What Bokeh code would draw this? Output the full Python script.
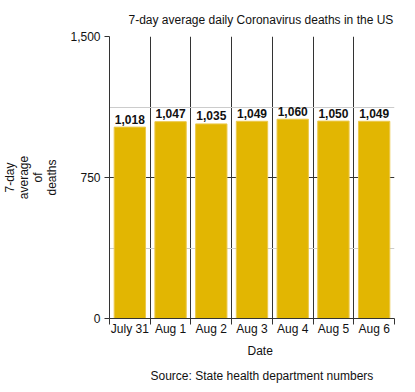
from bokeh.plotting import figure
from bokeh.models import Range1d, FixedTicker, Title, ColumnDataSource, NumeralTickFormatter
from bokeh.embed import file_html
from bokeh.resources import INLINE
from bokeh.core.properties import value

# ---- data ----
dates = ["July 31", "Aug 1", "Aug 2", "Aug 3", "Aug 4", "Aug 5", "Aug 6"]
deaths = [1018, 1047, 1035, 1049, 1060, 1050, 1049]
y_ticks = [0, 750, 1500]
y_minor = [375, 1125]
title_text = "7-day average daily Coronavirus deaths in the US"
x_label = "Date"
y_label = "7-day\naverage\nof\ndeaths"
source_text = "Source: State health department numbers"

FONT = "Liberation Sans"
TXT = "#111111"
LINE = "#333333"

xs = [i + 0.5 for i in range(len(dates))]
labels = [f"{v:,}" for v in deaths]
src = ColumnDataSource(dict(x=xs, top=deaths, label=labels))

p = figure(frame_width=285, frame_height=282,
           x_range=Range1d(0, len(dates)), y_range=Range1d(y_ticks[0], y_ticks[-1]),
           output_backend="svg", toolbar_location=None,
           min_border_left=100, min_border_right=14, min_border_top=36, min_border_bottom=50)
p.outline_line_color = None

# title
p.title.text = title_text
p.title.text_font = FONT
p.title.text_font_size = "12px"
p.title.text_font_style = "normal"
p.title.text_color = TXT
p.title.align = "left"
p.title.offset = 19
p.title.standoff = 20

# grids
p.xgrid.ticker = FixedTicker(ticks=list(range(len(dates) + 1)))
p.xgrid.grid_line_color = LINE
p.ygrid.ticker = FixedTicker(ticks=y_ticks[1:], minor_ticks=y_minor)
p.ygrid.grid_line_color = LINE
p.ygrid.minor_grid_line_color = "#cccccc"

# x axis
xa = p.xaxis[0]
xa.ticker = FixedTicker(ticks=xs, minor_ticks=list(range(len(dates) + 1)))
xa.major_label_overrides = {x: d for x, d in zip(xs, dates)}
xa.major_tick_line_color = None
xa.major_tick_out = 0
xa.major_tick_in = 0
xa.minor_tick_line_color = LINE
xa.minor_tick_out = 6
xa.minor_tick_in = 0
xa.major_label_standoff = -3
xa.major_label_text_font = FONT
xa.major_label_text_font_size = "12px"
xa.major_label_text_color = TXT
xa.axis_line_color = LINE

# y axis
ya = p.yaxis[0]
ya.ticker = FixedTicker(ticks=y_ticks)
ya.formatter = NumeralTickFormatter(format="0,0")
ya.major_tick_out = 5
ya.major_tick_in = 0
ya.minor_tick_line_color = None
ya.major_tick_line_color = LINE
ya.axis_line_color = LINE
ya.major_label_standoff = 4
ya.major_label_text_font = FONT
ya.major_label_text_font_size = "12px"
ya.major_label_text_color = TXT
ya.axis_label = y_label
ya.axis_label_text_font = FONT
ya.axis_label_text_font_size = "12px"
ya.axis_label_text_font_style = "normal"
ya.axis_label_text_color = TXT
ya.axis_label_text_line_height = 1.0
ya.axis_label_standoff = 8

# bars
p.vbar(x="x", top="top", width=0.77, source=src,
       fill_color="#E2B602", line_color="#ECC94C", line_width=1)

# value labels
p.text(x="x", y="top", text="label", source=src,
       text_align="center", text_baseline="alphabetic", y_offset=-8,
       text_font=value(FONT), text_font_size="12px", text_font_style="bold",
       text_color=TXT)

# bottom texts
p.add_layout(Title(text=x_label, align="left", offset=138, standoff=6, text_font=FONT,
                   text_font_size="12px", text_font_style="normal", text_color=TXT), "below")
p.add_layout(Title(text=source_text, align="left", offset=41, standoff=12, text_font=FONT,
                   text_font_size="12px", text_font_style="normal", text_color=TXT), "below")

open("out.html", "w").write(file_html(p, INLINE))
